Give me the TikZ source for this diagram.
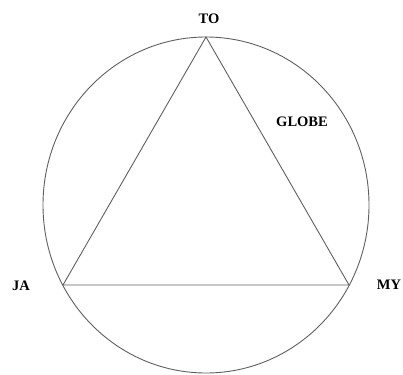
\documentclass[tikz,border=0pt]{standalone}
\usepackage{fontspec}
\setmainfont{Liberation Serif}
\usetikzlibrary{positioning}
\definecolor{lineg}{RGB}{95,95,95}

\begin{document}
\begin{tikzpicture}[x=1pt,y=-1pt,every node/.style={font=\bfseries\fontsize{14.5}{16}\selectfont,inner sep=1pt}]
    \useasboundingbox (0,0) rectangle (403,374);
    \def\rx{163}\def\ry{168}
    \coordinate (ctr) at (206,205);
    \coordinate (to) at (206,37);
    \coordinate (ja) at (63,285);
    \coordinate (my) at (349,285);
    \draw[lineg,line width=0.9pt] (ctr) ellipse [x radius=\rx, y radius=\ry];
    \draw[lineg,line width=0.9pt] (to) -- (my) -- (ja) -- cycle;
    \node (tolbl) at (209,19) {TO};
    \node (jalbl) at (21,286) {JA};
    \node (mylbl) at (389,285) {MY};
    \node (globe) at (302,122) {GLOBE};
  \end{tikzpicture}
\end{document}
